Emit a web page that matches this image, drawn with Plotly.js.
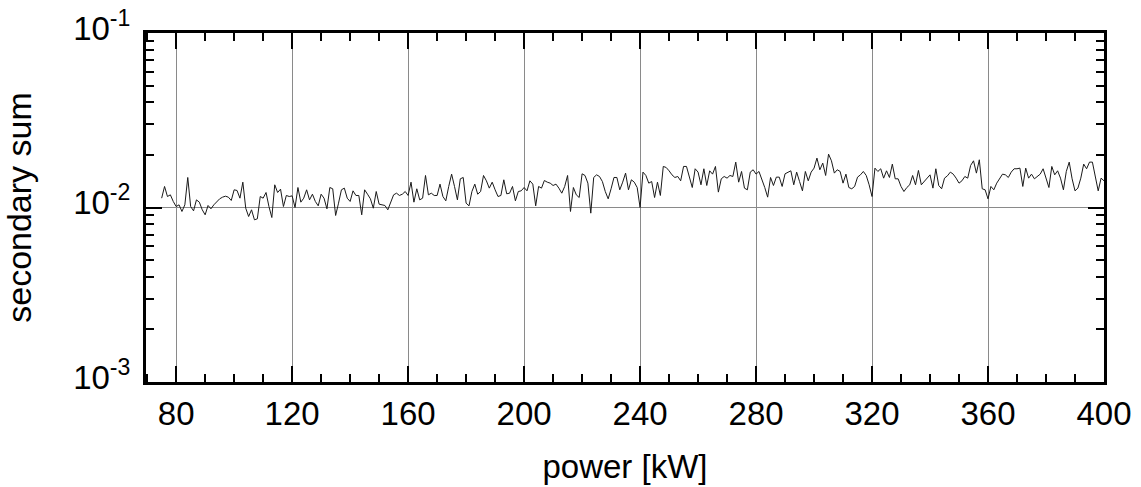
<!DOCTYPE html>
<html>
<head>
<meta charset="utf-8">
<script src="https://cdn.plot.ly/plotly-3.0.1.min.js"></script>
<style>
  html, body { margin: 0; padding: 0; background: #fff; }
  #chart { width: 1141px; height: 487px; }
</style>
</head>
<body>
<div id="chart"></div>
<script>
// power [kW]
const power = [
  75, 76, 77, 78, 79, 80, 81, 82, 83, 84, 85, 86, 87, 88, 89, 90, 91, 92, 93, 94,
  95, 96, 97, 98, 99, 100, 101, 102, 103, 104, 105, 106, 107, 108, 109, 110, 111, 112, 113, 114,
  115, 116, 117, 118, 119, 120, 121, 122, 123, 124, 125, 126, 127, 128, 129, 130, 131, 132, 133, 134,
  135, 136, 137, 138, 139, 140, 141, 142, 143, 144, 145, 146, 147, 148, 149, 150, 151, 152, 153, 154,
  155, 156, 157, 158, 159, 160, 161, 162, 163, 164, 165, 166, 167, 168, 169, 170, 171, 172, 173, 174,
  175, 176, 177, 178, 179, 180, 181, 182, 183, 184, 185, 186, 187, 188, 189, 190, 191, 192, 193, 194,
  195, 196, 197, 198, 199, 200, 201, 202, 203, 204, 205, 206, 207, 208, 209, 210, 211, 212, 213, 214,
  215, 216, 217, 218, 219, 220, 221, 222, 223, 224, 225, 226, 227, 228, 229, 230, 231, 232, 233, 234,
  235, 236, 237, 238, 239, 240, 241, 242, 243, 244, 245, 246, 247, 248, 249, 250, 251, 252, 253, 254,
  255, 256, 257, 258, 259, 260, 261, 262, 263, 264, 265, 266, 267, 268, 269, 270, 271, 272, 273, 274,
  275, 276, 277, 278, 279, 280, 281, 282, 283, 284, 285, 286, 287, 288, 289, 290, 291, 292, 293, 294,
  295, 296, 297, 298, 299, 300, 301, 302, 303, 304, 305, 306, 307, 308, 309, 310, 311, 312, 313, 314,
  315, 316, 317, 318, 319, 320, 321, 322, 323, 324, 325, 326, 327, 328, 329, 330, 331, 332, 333, 334,
  335, 336, 337, 338, 339, 340, 341, 342, 343, 344, 345, 346, 347, 348, 349, 350, 351, 352, 353, 354,
  355, 356, 357, 358, 359, 360, 361, 362, 363, 364, 365, 366, 367, 368, 369, 370, 371, 372, 373, 374,
  375, 376, 377, 378, 379, 380, 381, 382, 383, 384, 385, 386, 387, 388, 389, 390, 391, 392, 393, 394,
  395, 396, 397, 398, 399, 400
];

// secondary sum
const secondarySum = [
  0.01131, 0.01320, 0.01156, 0.01182, 0.01083, 0.01013, 0.01036, 0.00949, 0.01036, 0.01486,
  0.01013, 0.00957, 0.01106, 0.01073, 0.00970, 0.00908, 0.01027, 0.00983, 0.01036, 0.01083,
  0.01121, 0.01146, 0.01161, 0.01146, 0.01097, 0.01263, 0.01252, 0.01131, 0.01397, 0.00991,
  0.00888, 0.00970, 0.00850, 0.00861, 0.01156, 0.01131, 0.01219, 0.01013, 0.00876, 0.01349,
  0.01219, 0.01274, 0.01013, 0.01172, 0.01156, 0.01166, 0.01000, 0.01302, 0.01073, 0.01131,
  0.01263, 0.01106, 0.01192, 0.01083, 0.01022, 0.01192, 0.01131, 0.00983, 0.01302, 0.01280,
  0.00900, 0.01059, 0.01263, 0.01291, 0.01131, 0.01083, 0.01246, 0.01172, 0.01172, 0.00908,
  0.01263, 0.01192, 0.01121, 0.00991, 0.01235, 0.01045, 0.01036, 0.01027, 0.00970, 0.01083,
  0.01182, 0.01208, 0.01172, 0.01192, 0.01235, 0.01172, 0.01397, 0.01073, 0.01280, 0.01106,
  0.01131, 0.01526, 0.01182, 0.01208, 0.01172, 0.01172, 0.01361, 0.01156, 0.01092, 0.01320,
  0.01553, 0.01320, 0.01106, 0.01460, 0.01486, 0.01059, 0.01022, 0.01235, 0.01361, 0.01192,
  0.01235, 0.01526, 0.01422, 0.01291, 0.01397, 0.01263, 0.01156, 0.01172, 0.01441, 0.01198,
  0.01208, 0.01320, 0.01092, 0.01235, 0.01246, 0.01302, 0.01246, 0.01422, 0.01361, 0.01022,
  0.01320, 0.01291, 0.01428, 0.01397, 0.01379, 0.01337, 0.01361, 0.01291, 0.01208, 0.01320,
  0.01526, 0.00949, 0.01302, 0.01182, 0.01141, 0.01560, 0.01526, 0.01379, 0.00928, 0.01486,
  0.01539, 0.01506, 0.01409, 0.01235, 0.01121, 0.01280, 0.01486, 0.01486, 0.01263, 0.01397,
  0.01574, 0.01263, 0.01441, 0.01397, 0.01302, 0.01000, 0.01595, 0.01526, 0.01379, 0.01409,
  0.01141, 0.01397, 0.01172, 0.01719, 0.01696, 0.01623, 0.01539, 0.01486, 0.01506, 0.01422,
  0.01719, 0.01719, 0.01473, 0.01302, 0.01667, 0.01595, 0.01349, 0.01667, 0.01337, 0.01623,
  0.01553, 0.01719, 0.01225, 0.01460, 0.01506, 0.01473, 0.01526, 0.01506, 0.01820, 0.01397,
  0.01609, 0.01291, 0.01263, 0.01595, 0.01645, 0.01553, 0.01609, 0.01460, 0.01302, 0.01146,
  0.01486, 0.01337, 0.01493, 0.01493, 0.01320, 0.01560, 0.01595, 0.01623, 0.01349, 0.01595,
  0.01409, 0.01246, 0.01609, 0.01422, 0.01595, 0.01681, 0.01919, 0.01645, 0.01796, 0.01526,
  0.02022, 0.01852, 0.01574, 0.01645, 0.01609, 0.01379, 0.01553, 0.01302, 0.01280, 0.01320,
  0.01493, 0.01539, 0.01609, 0.01526, 0.01349, 0.01156, 0.01681, 0.01609, 0.01667, 0.01473,
  0.01623, 0.01486, 0.01773, 0.01460, 0.01460, 0.01320, 0.01235, 0.01302, 0.01349, 0.01526,
  0.01349, 0.01631, 0.01349, 0.01409, 0.01473, 0.01539, 0.01291, 0.01667, 0.01337, 0.01280,
  0.01473, 0.01519, 0.01595, 0.01553, 0.01473, 0.01379, 0.01422, 0.01506, 0.01473, 0.01741,
  0.01852, 0.01574, 0.01877, 0.01280, 0.01263, 0.01121, 0.01320, 0.01263, 0.01379, 0.01460,
  0.01553, 0.01539, 0.01486, 0.01595, 0.01667, 0.01667, 0.01681, 0.01320, 0.01681, 0.01473,
  0.01553, 0.01460, 0.01506, 0.01553, 0.01667, 0.01473, 0.01302, 0.01719, 0.01539, 0.01623,
  0.01473, 0.01263, 0.01609, 0.01820, 0.01460, 0.01246, 0.01291, 0.01473, 0.01773, 0.01667,
  0.01820, 0.01820, 0.01539, 0.01246, 0.01473, 0.01422
];

const xTickVals = [80, 120, 160, 200, 240, 280, 320, 360, 400];
const yTickVals = [0.001, 0.01, 0.1];
const yTickText = ['10<sup>-3</sup>', '10<sup>-2</sup>', '10<sup>-1</sup>'];
const yMinorVals = [0.002, 0.003, 0.004, 0.005, 0.006, 0.007, 0.008, 0.009,
                    0.02, 0.03, 0.04, 0.05, 0.06, 0.07, 0.08, 0.09];

const FONT = 'Liberation Sans, Arial, Helvetica, sans-serif';

const trace = {
  x: power,
  y: secondarySum,
  type: 'scatter',
  mode: 'lines',
  line: { color: '#1a1a1a', width: 1 },
  hoverinfo: 'x+y'
};

const layout = {
  width: 1141,
  height: 487,
  margin: { l: 146, r: 37, t: 33, b: 105 },
  paper_bgcolor: '#ffffff',
  plot_bgcolor: '#ffffff',
  showlegend: false,
  font: { family: FONT, size: 32, color: '#000' },
  xaxis: {
    range: [69.6, 400],
    tickmode: 'array',
    tickvals: xTickVals,
    ticks: 'inside',
    ticklen: 16,
    tickwidth: 2,
    tickcolor: '#000',
    showline: true,
    linewidth: 3,
    linecolor: '#000',
    mirror: 'allticks',
    showgrid: true,
    gridcolor: '#8a8a8a',
    gridwidth: 1,
    zeroline: false,
    tickfont: { family: FONT, size: 33, color: '#000' },
    ticklabelstandoff: 0,
    minor: {
      ticks: 'inside',
      ticklen: 8,
      tickwidth: 2,
      tickcolor: '#000',
      tickmode: 'linear',
      tick0: 80,
      dtick: 10,
      showgrid: false
    },
    title: { text: 'power [kW]', font: { family: FONT, size: 33, color: '#000' }, standoff: 25 }
  },
  yaxis: {
    type: 'log',
    range: [-3, -1],
    tickmode: 'array',
    tickvals: yTickVals,
    ticktext: yTickText,
    ticks: 'inside',
    ticklen: 16,
    tickwidth: 2,
    tickcolor: '#000',
    showline: true,
    linewidth: 3,
    linecolor: '#000',
    mirror: 'allticks',
    showgrid: true,
    gridcolor: '#8a8a8a',
    gridwidth: 1,
    zeroline: false,
    tickfont: { family: FONT, size: 33, color: '#000' },
    ticklabelstandoff: 6,
    ticklabelshift: -5,
    minor: {
      ticks: 'inside',
      ticklen: 8,
      tickwidth: 2,
      tickcolor: '#000',
      tickmode: 'array',
      tickvals: yMinorVals,
      showgrid: false
    },
    title: { text: 'secondary sum', font: { family: FONT, size: 34, color: '#000' }, standoff: 36 }
  }
};

Plotly.newPlot('chart', [trace], layout, { staticPlot: true, displayModeBar: false });
</script>
</body>
</html>
